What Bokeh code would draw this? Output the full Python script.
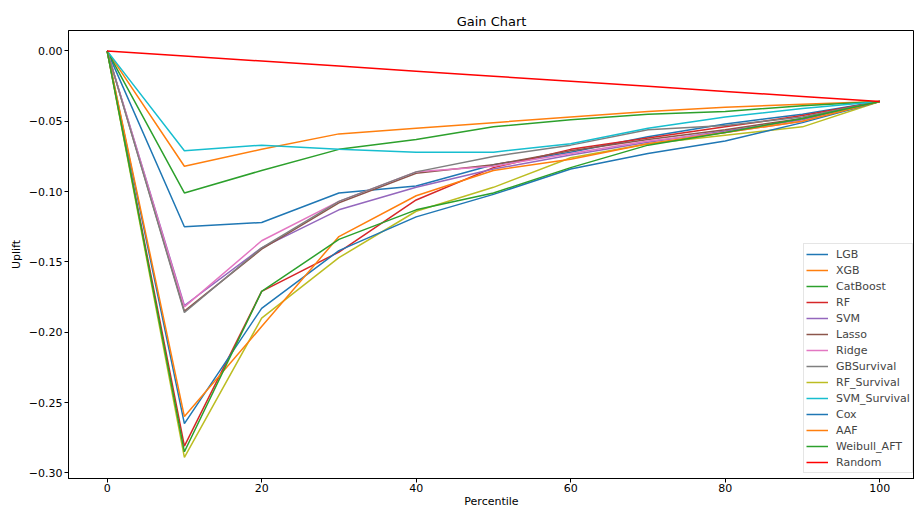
from bokeh.plotting import figure
from bokeh.models import Legend, LegendItem, FixedTicker, CustomJSTickFormatter, Range1d
from bokeh.embed import file_html
from bokeh.resources import INLINE

percentile = [0, 10, 20, 30, 40, 50, 60, 70, 80, 90, 100]

LGB = [0, -0.125, -0.122, -0.101, -0.096, -0.081, -0.072, -0.061, -0.052, -0.045, -0.036]
XGB = [0, -0.082, -0.070, -0.059, -0.055, -0.051, -0.047, -0.043, -0.040, -0.038, -0.036]
CatBoost = [0, -0.101, -0.085, -0.070, -0.063, -0.054, -0.049, -0.045, -0.043, -0.039, -0.036]
RF = [0, -0.281, -0.171, -0.143, -0.106, -0.083, -0.070, -0.062, -0.054, -0.046, -0.036]
SVM = [0, -0.181, -0.140, -0.113, -0.097, -0.084, -0.074, -0.065, -0.057, -0.049, -0.036]
Lasso = [0, -0.185, -0.141, -0.108, -0.087, -0.081, -0.071, -0.063, -0.056, -0.048, -0.036]
Ridge = [0, -0.182, -0.135, -0.107, -0.086, -0.082, -0.073, -0.064, -0.058, -0.050, -0.036]
GBSurvival = [0, -0.186, -0.140, -0.107, -0.086, -0.075, -0.067, -0.056, -0.053, -0.047, -0.036]
RF_Survival = [0, -0.289, -0.190, -0.147, -0.114, -0.097, -0.076, -0.066, -0.060, -0.054, -0.036]
SVM_Survival = [0, -0.071, -0.067, -0.070, -0.072, -0.072, -0.066, -0.055, -0.047, -0.041, -0.036]
Cox = [0, -0.265, -0.183, -0.142, -0.118, -0.102, -0.084, -0.073, -0.064, -0.051, -0.036]
AAF = [0, -0.260, -0.196, -0.132, -0.103, -0.085, -0.077, -0.066, -0.058, -0.050, -0.036]
Weibull_AFT = [0, -0.285, -0.171, -0.134, -0.113, -0.101, -0.083, -0.067, -0.058, -0.048, -0.036]
Random = [0, -0.0036, -0.0072, -0.0108, -0.0144, -0.018, -0.0216, -0.0252, -0.0288, -0.0324, -0.036]

series = [
    ("LGB", LGB, "#1f77b4"),
    ("XGB", XGB, "#ff7f0e"),
    ("CatBoost", CatBoost, "#2ca02c"),
    ("RF", RF, "#d62728"),
    ("SVM", SVM, "#9467bd"),
    ("Lasso", Lasso, "#8c564b"),
    ("Ridge", Ridge, "#e377c2"),
    ("GBSurvival", GBSurvival, "#7f7f7f"),
    ("RF_Survival", RF_Survival, "#bcbd22"),
    ("SVM_Survival", SVM_Survival, "#17becf"),
    ("Cox", Cox, "#1f77b4"),
    ("AAF", AAF, "#ff7f0e"),
    ("Weibull_AFT", Weibull_AFT, "#2ca02c"),
    ("Random", Random, "#ff0000"),
]

x_ticks = [0, 20, 40, 60, 80, 100]
y_ticks = [0.0, -0.05, -0.10, -0.15, -0.20, -0.25, -0.30]

FONT = "DejaVu Sans"

p = figure(width=914, height=510, output_backend="svg", toolbar_location=None,
           title="Gain Chart",
           x_range=Range1d(-5, 104.5), y_range=Range1d(-0.304, 0.0145),
           min_border_left=68, min_border_right=0, min_border_top=30, min_border_bottom=0)

p.title.align = "center"
p.title.text_font = FONT
p.title.text_font_size = "13px"
p.title.text_font_style = "normal"
p.title.text_color = "black"
p.title.standoff = 4

p.xgrid.visible = False
p.ygrid.visible = False
p.outline_line_color = "black"
p.outline_line_width = 1
p.background_fill_color = "white"
p.border_fill_color = "white"

p.xaxis.ticker = FixedTicker(ticks=x_ticks)
p.yaxis.ticker = FixedTicker(ticks=y_ticks)
p.yaxis.formatter = CustomJSTickFormatter(
    code="return (tick < -1e-9 ? '\u2212' : '') + Math.abs(tick).toFixed(2);")
p.xaxis.axis_label = "Percentile"
p.yaxis.axis_label = "Uplift"
for ax in (p.xaxis, p.yaxis):
    ax.axis_label_text_font = FONT
    ax.axis_label_text_font_size = "11px"
    ax.axis_label_text_font_style = "normal"
    ax.axis_label_text_color = "black"
    ax.major_label_text_font = FONT
    ax.major_label_text_font_size = "11px"
    ax.major_label_text_color = "black"
    ax.minor_tick_line_color = None
    ax.major_tick_in = 0
    ax.major_tick_out = 4
    ax.major_tick_line_color = "black"
    ax.axis_line_color = "black"
    ax.major_label_standoff = 2
    ax.axis_label_standoff = 3
p.xaxis.major_label_standoff = 1
p.xaxis.axis_label_standoff = 0

items = []
for name, vals, color in series:
    r = p.line(percentile, vals, line_color=color, line_width=1.5)
    items.append(LegendItem(label=name, renderers=[r]))

legend = Legend(items=items, location=(735, 5))
legend.label_text_font = FONT
legend.label_text_font_size = "11px"
legend.label_height = 16
legend.glyph_height = 16
legend.glyph_width = 22
legend.label_standoff = 8
legend.spacing = 0
legend.padding = 2
legend.margin = 0
legend.border_line_color = "#cccccc"
legend.border_line_width = 1
legend.background_fill_alpha = 0.8
p.add_layout(legend, "center")

open("out.html", "w").write(file_html(p, INLINE))
